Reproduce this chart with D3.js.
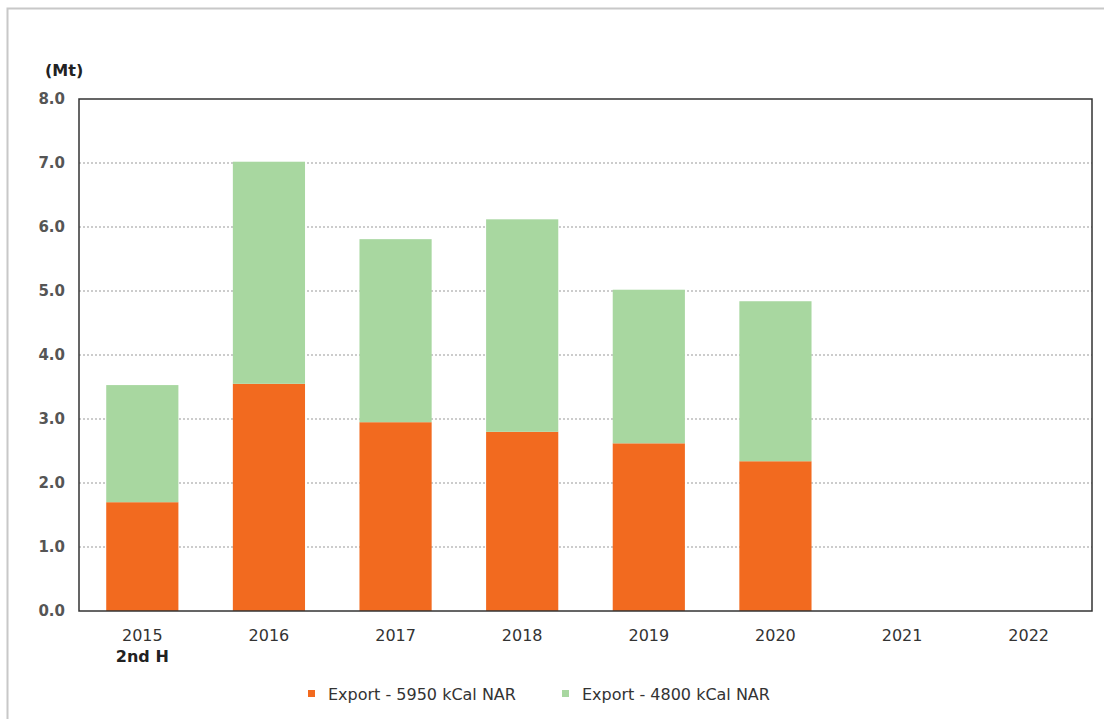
<!DOCTYPE html>
<html><head><meta charset="utf-8">
<script src="https://cdn.jsdelivr.net/npm/d3@7"></script>
<style>body{margin:0;background:#fff}svg{display:block}</style>
</head><body>
<svg id="c" width="1104" height="719"></svg>
<script>
const categories = ["2015", "2016", "2017", "2018", "2019", "2020", "2021", "2022"];
const subLabels = ["2nd H", "", "", "", "", "", "", ""];
const export5950 = [1.70, 3.55, 2.95, 2.80, 2.62, 2.34, null, null];
const export4800 = [1.83, 3.47, 2.86, 3.32, 2.40, 2.50, null, null];
const seriesNames = ["Export - 5950 kCal NAR", "Export - 4800 kCal NAR"];
const colors = ["#F26A1F", "#A8D7A0"];
const yTicks = [0, 1, 2, 3, 4, 5, 6, 7, 8];

const svg = d3.select("#c");
const font = "'DejaVu Sans', Verdana, sans-serif";
const L = 79, R = 1092, T = 99, B = 611;

// outer frame
svg.append("path").attr("d", "M7.5,719 V8.5 H1104").attr("fill", "none").attr("stroke", "#c8c8c8").attr("stroke-width", 2);

const x = d3.scaleBand().domain(categories).range([L, R]).paddingInner(0.43).paddingOuter(0.215);
const y = d3.scaleLinear().domain([0, 8]).range([B, T]);

// gridlines
svg.append("g").selectAll("line").data(yTicks.filter(d => d > 0 && d < 8)).join("line")
  .attr("x1", L).attr("x2", R).attr("y1", d => y(d)).attr("y2", d => y(d))
  .attr("stroke", "#999").attr("stroke-dasharray", "2,2").attr("stroke-width", 1);

// stacked bars
const rows = categories.map((c, i) => ({cat: c, a: export5950[i], b: export4800[i]})).filter(d => d.a != null);
const stack = d3.stack().keys(["a", "b"])(rows);
svg.append("g").selectAll("g").data(stack).join("g").attr("fill", (d, i) => colors[i])
  .selectAll("rect").data(d => d).join("rect")
  .attr("x", d => x(d.data.cat)).attr("width", x.bandwidth())
  .attr("y", d => y(d[1])).attr("height", d => y(d[0]) - y(d[1]));

// plot border
svg.append("rect").attr("x", L).attr("y", T).attr("width", R - L).attr("height", B - T)
  .attr("fill", "none").attr("stroke", "#333").attr("stroke-width", 1.5);

// y axis
const yAxis = d3.axisLeft(y).tickValues(yTicks).tickFormat(d3.format(".1f")).tickSize(0).tickPadding(14);
const yg = svg.append("g").attr("transform", `translate(${L},0)`).call(yAxis);
yg.select(".domain").remove();
yg.selectAll("text").attr("font-family", font).attr("font-size", 15).attr("font-weight", "bold").attr("fill", "#555");

// x axis
const xAxis = d3.axisBottom(x).tickSize(0).tickPadding(0);
const xg = svg.append("g").attr("transform", `translate(0,${B})`).call(xAxis);
xg.select(".domain").remove();
xg.selectAll("text").attr("font-family", font).attr("font-size", 16).attr("fill", "#333")
  .attr("dy", null).attr("y", 30);
svg.append("g").selectAll("text").data(categories.map((c, i) => ({c, s: subLabels[i]})).filter(d => d.s)).join("text")
  .attr("x", d => x(d.c) + x.bandwidth() / 2).attr("y", B + 51).attr("text-anchor", "middle")
  .attr("font-family", font).attr("font-size", 16).attr("font-weight", "bold").attr("fill", "#222")
  .text(d => d.s);

// unit label
svg.append("text").attr("x", 45).attr("y", 76).attr("font-family", font).attr("font-size", 16)
  .attr("font-weight", "bold").attr("fill", "#222").text("(Mt)");

// legend
const legX = [308, 562];
const lg = svg.append("g").selectAll("g").data(seriesNames).join("g")
  .attr("transform", (d, i) => `translate(${legX[i]},694)`);
lg.append("rect").attr("x", 0).attr("y", -4).attr("width", 7).attr("height", 7).attr("fill", (d, i) => colors[i]);
lg.append("text").attr("x", 20).attr("y", 6).attr("font-family", font).attr("font-size", 16).attr("fill", "#333").text(d => d);
</script>
</body></html>
